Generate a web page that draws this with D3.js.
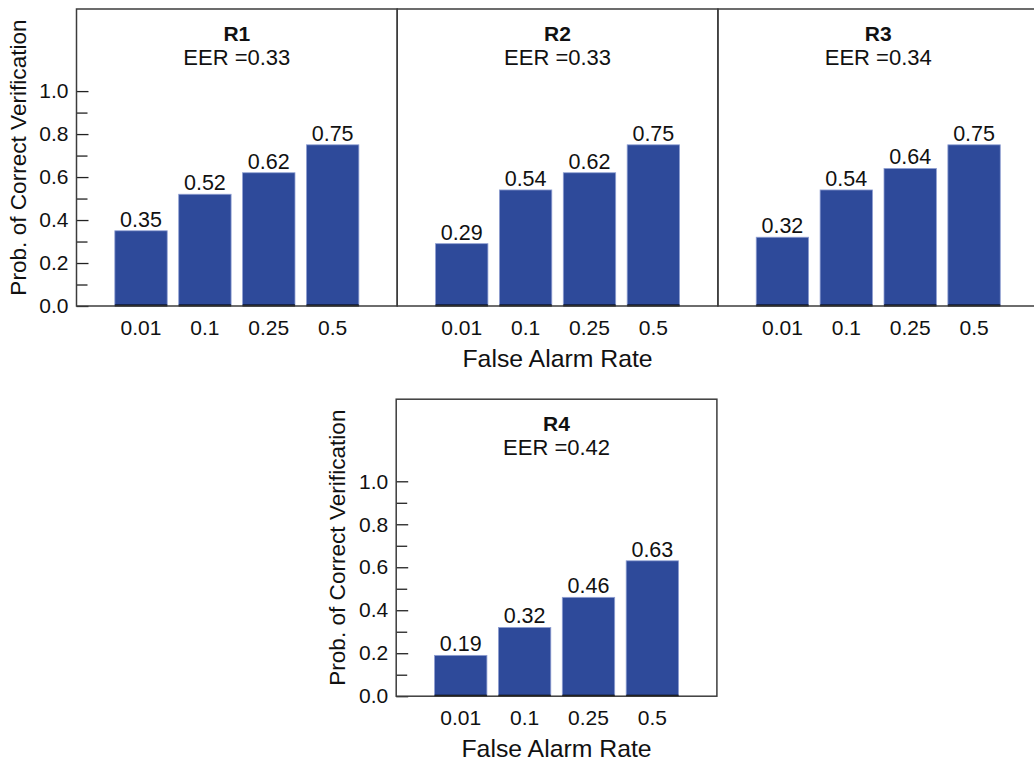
<!DOCTYPE html>
<html lang="en">
<head>
    <meta charset="UTF-8">
    <title>Probability of Correct Verification by False Alarm Rate</title>
    <script src="https://d3js.org/d3.v7.min.js"></script>
    <style>
        body {
            margin: 0;
            background: #fff;
        }
        svg text {
            font-family: "Liberation Sans", Arial, Helvetica, sans-serif;
            fill: #111;
        }
        .tick text {
            font-size: 21px;
        }
        .bar {
            fill: #2e4a9a;
            stroke: #8f9fd2;
            stroke-width: 0.8;
        }
        .frame {
            fill: none;
            stroke: #3c3c3c;
            stroke-width: 1.5;
        }
    </style>
</head>
<body>
    <svg id="chart" width="1034" height="765"></svg>

    <script>
        // data
        const rates = ["0.01", "0.1", "0.25", "0.5"];
        const panelNames = ["R1", "R2", "R3", "R4"];
        const eer = [0.33, 0.33, 0.34, 0.42];
        const r1 = [0.35, 0.52, 0.62, 0.75];
        const r2 = [0.29, 0.54, 0.62, 0.75];
        const r3 = [0.32, 0.54, 0.64, 0.75];
        const r4 = [0.19, 0.32, 0.46, 0.63];
        const yTicks = [0, 0.2, 0.4, 0.6, 0.8, 1.0];
        const yMinor = [0.1, 0.3, 0.5, 0.7, 0.9];

        const series = [r1, r2, r3, r4];

        // panel placement (only R1 and R4 carry a y axis)
        const pw = 320.7, ph = 297;
        const layout = [
            { left: 76.5, top: 9, yAxis: true, xTitle: false },
            { left: 397.2, top: 9, yAxis: false, xTitle: true },
            { left: 717.9, top: 9, yAxis: false, xTitle: false },
            { left: 396.2, top: 399.2, yAxis: true, xTitle: true }
        ];

        const svg = d3.select("#chart");

        const y = d3.scaleLinear()
            .domain([0, 1.382])
            .range([ph, 0]);

        const x = d3.scaleBand()
            .domain(rates)
            .range([0, pw])
            .paddingInner(0.18)
            .paddingOuter(0.6);

        layout.forEach((p, i) => {
            const g = svg.append("g")
                .attr("transform", `translate(${p.left}, ${p.top})`);
            const vals = series[i];

            g.selectAll(".bar")
                .data(vals)
                .enter().append("rect")
                .attr("class", "bar")
                .attr("x", (d, j) => x(rates[j]))
                .attr("y", d => y(d))
                .attr("width", x.bandwidth())
                .attr("height", d => y(0) - y(d));

            // dark base under each bar
            g.selectAll(".base")
                .data(vals)
                .enter().append("line")
                .attr("x1", (d, j) => x(rates[j]))
                .attr("x2", (d, j) => x(rates[j]) + x.bandwidth())
                .attr("y1", y(0) - 0.5)
                .attr("y2", y(0) - 0.5)
                .attr("stroke", "#000")
                .attr("stroke-width", 2);

            g.selectAll(".val")
                .data(vals)
                .enter().append("text")
                .attr("x", (d, j) => x(rates[j]) + x.bandwidth() / 2)
                .attr("y", d => y(d) - 4)
                .attr("text-anchor", "middle")
                .style("font-size", "21.5px")
                .text(d => d3.format(".2f")(d));

            if (p.yAxis) {
                // y axis, ticks pointing inwards
                const ya = g.append("g")
                    .call(d3.axisLeft(y).tickValues(yTicks).tickSize(-12).tickPadding(8)
                        .tickFormat(d3.format(".1f")));
                ya.select(".domain").remove();
                ya.selectAll(".tick line").attr("stroke", "#222").attr("stroke-width", 1.3);

                const ym = g.append("g")
                    .call(d3.axisLeft(y).tickValues(yMinor).tickSize(-11).tickFormat(""));
                ym.select(".domain").remove();
                ym.selectAll(".tick line").attr("stroke", "#222").attr("stroke-width", 1.3);

                g.append("text")
                    .attr("transform", `translate(-51, ${ph / 2}) rotate(-90)`)
                    .attr("text-anchor", "middle")
                    .style("font-size", "22.6px")
                    .text("Prob. of Correct Verification");
            }

            // x axis labels
            const xa = g.append("g")
                .attr("transform", `translate(0, ${ph})`)
                .call(d3.axisBottom(x).tickSize(0).tickPadding(14));
            xa.select(".domain").remove();

            g.append("rect")
                .attr("class", "frame")
                .attr("width", pw)
                .attr("height", ph);

            g.append("text")
                .attr("x", pw / 2)
                .attr("y", 32)
                .attr("text-anchor", "middle")
                .style("font-size", "21px")
                .style("font-weight", "bold")
                .text(panelNames[i]);

            g.append("text")
                .attr("x", pw / 2)
                .attr("y", 56)
                .attr("text-anchor", "middle")
                .style("font-size", "22px")
                .text("EER =" + d3.format(".2f")(eer[i]));

            if (p.xTitle) {
                g.append("text")
                    .attr("x", pw / 2)
                    .attr("y", ph + 61)
                    .attr("text-anchor", "middle")
                    .style("font-size", "24.8px")
                    .text("False Alarm Rate");
            }
        });
    </script>
</body>
</html>
